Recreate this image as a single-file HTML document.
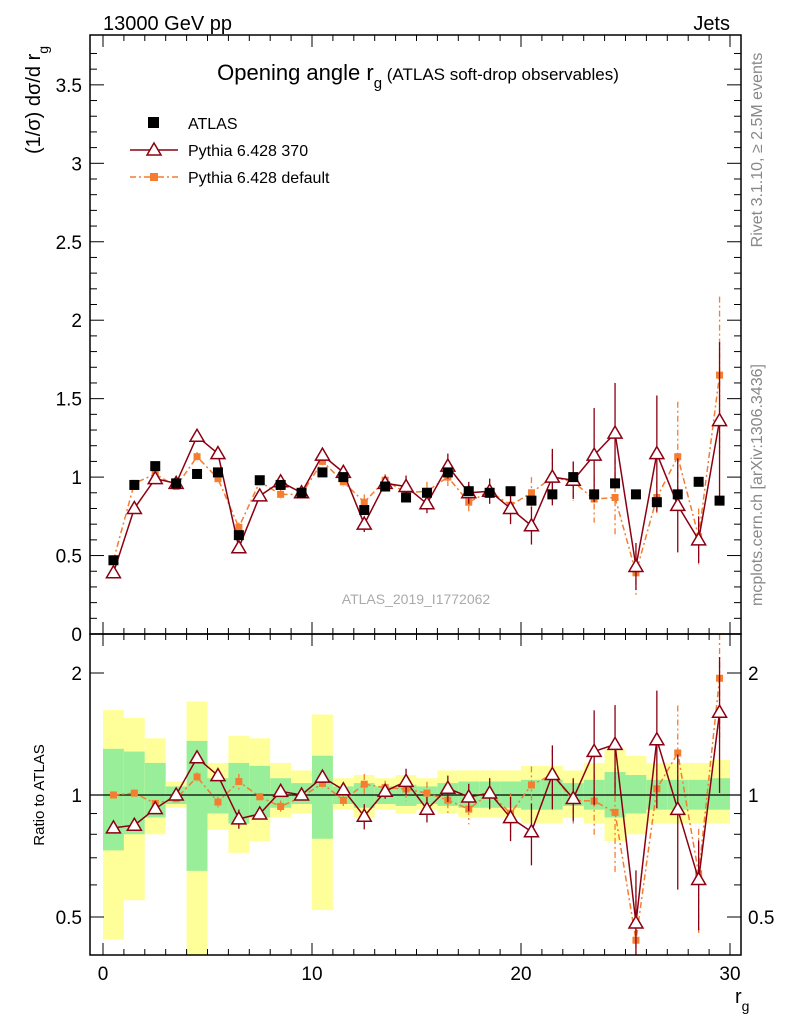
<!DOCTYPE html>
<html><head><meta charset="utf-8"><style>
html,body{margin:0;padding:0;background:#fff}
svg{display:block;font-family:"Liberation Sans",sans-serif}
</style></head><body>
<svg id="c" width="786" height="1024" viewBox="0 0 786 1024">
<text x="103" y="30" font-size="20">13000 GeV pp</text>
<text x="730" y="30" font-size="20" text-anchor="end">Jets</text>
<text x="418" y="80" font-size="22" text-anchor="middle">Opening angle r<tspan font-size="15" dy="8">g</tspan><tspan font-size="17" dy="-8"> (ATLAS soft-drop observables)</tspan></text>
<text transform="translate(40,100) rotate(-90)" font-size="20" text-anchor="middle">(1/σ) dσ/d r<tspan font-size="14" dy="8">g</tspan></text>
<text transform="translate(44,795) rotate(-90)" font-size="15" text-anchor="middle">Ratio to ATLAS</text>
<text x="735" y="1003" font-size="20">r<tspan font-size="14" dy="8">g</tspan></text>
<text transform="translate(762,150) rotate(-90)" font-size="16" fill="#888" text-anchor="middle">Rivet 3.1.10, ≥ 2.5M events</text>
<text transform="translate(762,485) rotate(-90)" font-size="16" fill="#888" text-anchor="middle">mcplots.cern.ch [arXiv:1306.3436]</text>
<text x="416" y="604" font-size="14" fill="#aaa" text-anchor="middle">ATLAS_2019_I1772062</text>
<g id="bands"></g>
<g id="ratio"></g>
<g id="main"></g>
<g id="axes"></g>
<g>
<rect x="148" y="117" width="11" height="11" fill="#000"/>
<text x="188" y="129" font-size="16">ATLAS</text>
<line x1="130" y1="150" x2="178" y2="150" stroke="#8b0012" stroke-width="1.5"/>
<polygon points="154,143 147,155 161,155" fill="#fff" stroke="#8b0012" stroke-width="1.5"/>
<text x="188" y="156" font-size="16">Pythia 6.428 370</text>
<line x1="130" y1="177" x2="178" y2="177" stroke="#f47d30" stroke-width="1.5" stroke-dasharray="6,3,2,3"/>
<rect x="150" y="173" width="8" height="8" fill="#f47d30"/>
<text x="188" y="183" font-size="16">Pythia 6.428 default</text>
</g>
</svg>
<script>
const dataY=[0.47,0.95,1.07,0.96,1.02,1.03,0.63,0.98,0.95,0.90,1.03,1.00,0.79,0.94,0.87,0.90,1.03,0.91,0.90,0.91,0.85,0.89,1.00,0.89,0.96,0.89,0.84,0.89,0.97,0.85];
const p370Y=[0.39,0.80,0.99,0.96,1.26,1.15,0.55,0.88,0.97,0.90,1.14,1.03,0.70,0.96,0.94,0.83,1.07,0.90,0.91,0.80,0.69,1.00,0.98,1.14,1.28,0.43,1.15,0.82,0.60,1.36];
const p370Err=[0.01,0.02,0.02,0.02,0.03,0.03,0.03,0.02,0.03,0.02,0.03,0.03,0.05,0.04,0.07,0.06,0.08,0.07,0.08,0.1,0.12,0.18,0.12,0.3,0.32,0.15,0.37,0.3,0.15,0.5];
const defY=[0.47,0.96,1.02,0.94,1.13,0.99,0.68,0.97,0.89,0.89,1.10,0.97,0.84,0.98,0.90,0.91,1.00,0.84,0.91,0.82,0.90,1.00,0.97,0.86,0.87,0.39,0.87,1.13,0.62,1.65];
const defErr=[0.01,0.02,0.02,0.02,0.03,0.03,0.03,0.02,0.03,0.02,0.03,0.03,0.05,0.04,0.06,0.06,0.07,0.07,0.08,0.1,0.1,0.15,0.12,0.15,0.25,0.14,0.1,0.35,0.18,0.5];
const bandYlo=[0.44,0.55,0.80,0.93,0.30,0.82,0.72,0.77,0.88,0.90,0.52,0.92,0.88,0.92,0.90,0.92,0.90,0.88,0.88,0.88,0.85,0.85,0.88,0.85,0.77,0.80,0.85,0.85,0.85,0.85];
const bandYhi=[1.62,1.55,1.38,1.08,1.70,1.20,1.40,1.38,1.20,1.15,1.58,1.10,1.12,1.10,1.12,1.10,1.15,1.15,1.15,1.15,1.18,1.18,1.15,1.20,1.30,1.25,1.20,1.20,1.20,1.22];
const bandGlo=[0.73,0.80,0.88,0.95,0.65,0.90,0.85,0.88,0.93,0.95,0.78,0.95,0.93,0.95,0.94,0.95,0.94,0.93,0.93,0.93,0.92,0.92,0.94,0.92,0.88,0.90,0.92,0.92,0.92,0.92];
const bandGhi=[1.30,1.28,1.20,1.05,1.36,1.10,1.20,1.18,1.10,1.07,1.25,1.05,1.07,1.05,1.06,1.05,1.07,1.08,1.08,1.08,1.09,1.09,1.07,1.09,1.14,1.12,1.09,1.09,1.09,1.10];
const xTicks=[0,10,20,30];
const yTicks=[0,0.5,1,1.5,2,2.5,3,3.5];
const rTicks=[0.5,1,2];
const NS="http://www.w3.org/2000/svg";
const L=90,R=741,T=35,M=634,B=955;
const X=v=>103+v*20.9;
const Y=v=>634-v*156.9;
const RY=v=>795-122*Math.log2(v);
function mk(tag,at,parent){const e=document.createElementNS(NS,tag);for(const k in at)e.setAttribute(k,at[k]);document.getElementById(parent).appendChild(e);return e;}
const clampR=v=>Math.max(M,Math.min(B,v));
for(let i=0;i<30;i++){
 let e=mk('rect',{x:X(i),y:clampR(RY(bandYhi[i])),width:20.9,height:clampR(RY(bandYlo[i]))-clampR(RY(bandYhi[i])),fill:'#ffff99'},'bands');
 
 
 e=mk('rect',{x:X(i),y:RY(bandGhi[i]),width:20.9,height:RY(bandGlo[i])-RY(bandGhi[i]),fill:'#99ee99'},'bands');
 
 
}
mk('line',{x1:L,x2:R,y1:RY(1),y2:RY(1),stroke:'#000','stroke-width':1.2},'ratio');
function series(vals,errs,color,dash,tri,parent,yf,name){
 let pts=vals.map((v,i)=>X(i+0.5)+','+yf(v)).join(' ');
 let pl=mk('polyline',{points:pts,fill:'none',stroke:color,'stroke-width':1.5,'stroke-dasharray':dash},parent);
 
 
 vals.forEach((v,i)=>{
  const cx=X(i+0.5),cy=yf(v);
  let y1=Math.max(T,yf(v+errs[i])),y2=yf(Math.max(0.05,v-errs[i]));
  if(parent==='ratio'){y1=clampR(y1);y2=clampR(y2);}
  let el=mk('line',{x1:cx,x2:cx,y1:y1,y2:y2,stroke:color,'stroke-width':1.3,'stroke-dasharray':dash},parent);
  
  
  if(cy<M-2&&parent==='ratio')return;
  let m;
  if(tri)m=mk('polygon',{points:`${cx},${cy-7} ${cx-7},${cy+5} ${cx+7},${cy+5}`,fill:'#fff',stroke:color,'stroke-width':1.5},parent);
  else m=mk('rect',{x:cx-3.5,y:cy-3.5,width:7,height:7,fill:color},parent);
  
  
 });
}
series(defY,defErr,'#f47d30','6,3,2,3',false,'main',Y,'pythia-default');
series(p370Y,p370Err,'#8b0012','',true,'main',Y,'pythia-370');
dataY.forEach((v,i)=>{
 const e=mk('rect',{x:X(i+0.5)-5,y:Y(v)-5,width:10,height:10,fill:'#000'},'main');
 
 
});
series(defY.map((v,i)=>v/dataY[i]),defErr.map((v,i)=>v/dataY[i]),'#f47d30','6,3,2,3',false,'ratio',RY,'ratio-default');
series(p370Y.map((v,i)=>v/dataY[i]),p370Err.map((v,i)=>v/dataY[i]),'#8b0012','',true,'ratio',RY,'ratio-370');
[[T,M],[M,B]].forEach(([a,b])=>{const f=mk('rect',{x:L,y:a,width:R-L,height:b-a,fill:'none',stroke:'#000','stroke-width':1.5},'axes');});
for(let v=0;v<=30;v++){const big=v%10===0,len=big?12:6;
 mk('line',{x1:X(v),x2:X(v),y1:B,y2:B-len,stroke:'#000'},'axes');
 mk('line',{x1:X(v),x2:X(v),y1:M,y2:M-len,stroke:'#000'},'axes');
 mk('line',{x1:X(v),x2:X(v),y1:T,y2:T+len,stroke:'#000'},'axes');
 mk('line',{x1:X(v),x2:X(v),y1:M,y2:M+len,stroke:'#000'},'axes');
}
xTicks.forEach(v=>{const t=mk('text',{x:X(v),y:980,'font-size':19,'text-anchor':'middle'},'axes');t.textContent=v;});
for(let v=0;v<=3.8;v+=0.1){const big=Math.abs(v*2-Math.round(v*2))<1e-6,len=big?14:7,y=Y(v);if(y<T)break;
 mk('line',{x1:L,x2:L+len,y1:y,y2:y,stroke:'#000'},'axes');mk('line',{x1:R,x2:R-len,y1:y,y2:y,stroke:'#000'},'axes');}
yTicks.forEach(v=>{const t=mk('text',{x:82,y:Y(v)+7,'font-size':19,'text-anchor':'end'},'axes');t.textContent=v;});
[0.5,0.6,0.7,0.8,0.9,1,2].forEach(v=>{const big=rTicks.includes(v),len=big?14:7,y=RY(v);
 mk('line',{x1:L,x2:L+len,y1:y,y2:y,stroke:'#000'},'axes');mk('line',{x1:R,x2:R-len,y1:y,y2:y,stroke:'#000'},'axes');});
rTicks.forEach(v=>{let t=mk('text',{x:82,y:RY(v)+7,'font-size':19,'text-anchor':'end'},'axes');t.textContent=v;
 t=mk('text',{x:748,y:RY(v)+7,'font-size':19},'axes');t.textContent=v;});
</script>
</body></html>
